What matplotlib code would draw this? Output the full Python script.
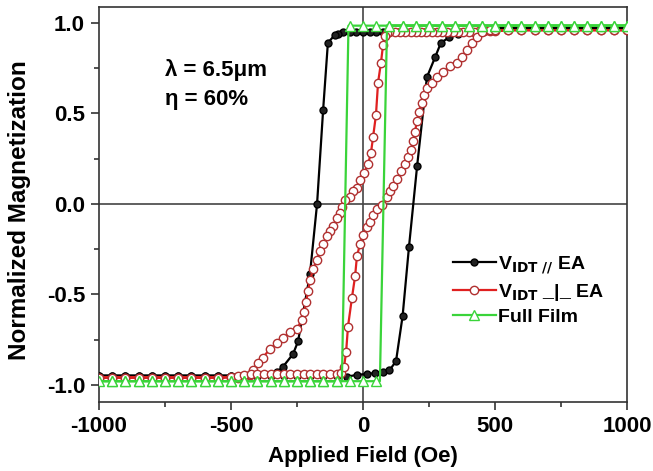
import matplotlib.pyplot as plt
from matplotlib.ticker import MultipleLocator

plt.rcParams['font.family'] = ['Liberation Sans', 'DejaVu Sans']
plt.rcParams['font.weight'] = 'bold'
plt.rcParams['mathtext.default'] = 'bf'
plt.rcParams['axes.unicode_minus'] = False

# V_IDT // EA, field sweep down (+1000 -> -1000) then up
black_x_down = [1000, 950, 900, 850, 800, 750, 700, 650, 600, 550, 500, 450, 400, 350, 300, 250, 200, 150,
                100, 75, 50, 25, 0, -25, -50, -76, -95, -106, -133, -151, -174, -201, -246, -265, -303, -326,
                -350, -400, -450, -500, -550, -600, -650, -700, -750, -800, -850, -900, -950, -1000]
black_y_down = [0.97, 0.97, 0.97, 0.97, 0.97, 0.97, 0.97, 0.97, 0.97, 0.97, 0.97, 0.96, 0.96, 0.96, 0.96, 0.955, 0.955, 0.955,
                0.95, 0.95, 0.95, 0.95, 0.95, 0.95, 0.95, 0.95, 0.94, 0.935, 0.89, 0.52, 0.0, -0.39, -0.76, -0.83, -0.90, -0.93,
                -0.94, -0.95, -0.95, -0.95, -0.95, -0.95, -0.95, -0.95, -0.95, -0.95, -0.95, -0.95, -0.95, -0.95]
black_x_up = [-1000, -950, -900, -850, -800, -750, -700, -650, -600, -550, -500, -450, -400, -350, -300, -250, -200, -150,
              -100, -61, -23, 15, 45, 76, 100, 125, 150, 174, 205, 242, 273, 295, 326, 360, 400, 450,
              500, 550, 600, 650, 700, 750, 800, 850, 900, 950, 1000]
black_y_up = [-0.95, -0.95, -0.95, -0.95, -0.95, -0.95, -0.95, -0.95, -0.95, -0.95, -0.95, -0.95, -0.95, -0.95, -0.95, -0.95, -0.95, -0.95,
              -0.95, -0.955, -0.945, -0.94, -0.935, -0.93, -0.92, -0.87, -0.62, -0.24, 0.21, 0.70, 0.81, 0.89, 0.92, 0.94, 0.955, 0.96,
              0.97, 0.97, 0.97, 0.97, 0.97, 0.97, 0.97, 0.97, 0.97, 0.97, 0.97]

# V_IDT _|_ EA
red_x_down = [1000, 950, 900, 850, 800, 750, 700, 650, 600, 550, 500, 480, 460, 440, 420, 400, 380, 360, 340, 320,
              300, 280, 260, 240, 220, 200, 180, 160, 140, 120, 100, 90, 83, 76, 68, 57, 49, 38, 30, 19, 4, -11,
              -23, -38, -49, -68, -80, -87, -98, -114, -125, -136, -151, -163, -174, -189, -200, -208, -215, -223,
              -231, -250, -276, -303, -326, -352, -379, -398, -417, -428, -450, -475, -500, -550, -600, -650, -700,
              -750, -800, -850, -900, -950, -1000]
red_y_down = [0.96, 0.96, 0.96, 0.96, 0.96, 0.96, 0.96, 0.96, 0.96, 0.96, 0.955, 0.955, 0.955, 0.955, 0.95, 0.95, 0.95, 0.95, 0.95, 0.95,
              0.95, 0.95, 0.95, 0.95, 0.95, 0.95, 0.95, 0.95, 0.95, 0.95, 0.95, 0.945, 0.93, 0.88, 0.78, 0.67, 0.49, 0.37, 0.28, 0.22, 0.17, 0.13,
              0.09, 0.07, 0.04, 0.02, -0.02, -0.05, -0.08, -0.12, -0.15, -0.18, -0.22, -0.26, -0.31, -0.36, -0.42, -0.48, -0.54, -0.60,
              -0.64, -0.69, -0.71, -0.74, -0.77, -0.80, -0.85, -0.88, -0.92, -0.945, -0.955, -0.96, -0.96, -0.96, -0.96, -0.96, -0.96,
              -0.96, -0.96, -0.96, -0.96, -0.96, -0.96]
red_x_up = [-1000, -950, -900, -850, -800, -750, -700, -650, -600, -550, -500, -475, -450, -425, -400, -375, -350, -325,
            -300, -275, -250, -225, -200, -175, -150, -125, -100, -85, -72, -64, -57, -42, -30, -23, -11, 0, 15, 27, 38,
            53, 72, 90, 102, 114, 129, 145, 159, 170, 182, 190, 197, 205, 213, 222, 230, 242, 261, 280, 303, 330, 356,
            375, 394, 413, 432, 451, 480, 500, 550, 600, 650, 700, 750, 800, 850, 900, 950, 1000]
red_y_up = [-0.96, -0.96, -0.96, -0.96, -0.96, -0.96, -0.96, -0.96, -0.96, -0.96, -0.955, -0.95, -0.945, -0.94, -0.94, -0.94, -0.94, -0.94,
            -0.94, -0.94, -0.94, -0.94, -0.94, -0.94, -0.94, -0.94, -0.94, -0.935, -0.90, -0.82, -0.68, -0.52, -0.40, -0.29, -0.22, -0.17, -0.13, -0.10, -0.06,
            -0.03, -0.005, 0.04, 0.07, 0.10, 0.14, 0.18, 0.22, 0.26, 0.30, 0.35, 0.40, 0.46, 0.51, 0.56, 0.60, 0.64, 0.67, 0.70, 0.73, 0.76, 0.78,
            0.81, 0.85, 0.89, 0.92, 0.95, 0.96, 0.96, 0.96, 0.96, 0.96, 0.96, 0.96, 0.96, 0.96, 0.96, 0.96, 0.96]

# Full film
green_x = [1000, 950, 900, 850, 800, 750, 700, 650, 600, 550, 500, 450, 400, 350, 300, 250, 200, 150, 100, 50, 0, -50,
           -55, -80,
           -100, -150, -200, -250, -300, -350, -400, -450, -500, -550, -600, -650, -700, -750, -800, -850, -900, -950, -1000,
           -950, -900, -850, -800, -750, -700, -650, -600, -550, -500, -450, -400, -350, -300, -250, -200, -150, -100, -50, 0, 50,
           64, 91,
           100, 150, 200, 250, 300, 350, 400, 450, 500, 550, 600, 650, 700, 750, 800, 850, 900, 950, 1000]
green_y = [0.985, 0.985, 0.985, 0.985, 0.985, 0.985, 0.985, 0.985, 0.985, 0.985, 0.985, 0.985, 0.985, 0.985, 0.985, 0.985, 0.985, 0.985, 0.985, 0.985, 0.985, 0.985,
           0.985, -0.98,
           -0.98, -0.98, -0.98, -0.98, -0.98, -0.98, -0.98, -0.98, -0.98, -0.98, -0.98, -0.98, -0.98, -0.98, -0.98, -0.98, -0.98, -0.98, -0.98,
           -0.98, -0.98, -0.98, -0.98, -0.98, -0.98, -0.98, -0.98, -0.98, -0.98, -0.98, -0.98, -0.98, -0.98, -0.98, -0.98, -0.98, -0.98, -0.98, -0.98, -0.98,
           -0.98, 0.985,
           0.985, 0.985, 0.985, 0.985, 0.985, 0.985, 0.985, 0.985, 0.985, 0.985, 0.985, 0.985, 0.985, 0.985, 0.985, 0.985, 0.985, 0.985, 0.985]

fig = plt.figure(figsize=(6.53, 4.71), dpi=100)
ax = fig.add_axes([0.1516, 0.1465, 0.8086, 0.8386])

ax.axhline(0, color='#444444', lw=1.2, zorder=1)
ax.axvline(0, color='#444444', lw=1.2, zorder=1)

black = dict(color='black', lw=1.6, marker='o', ms=5, mfc='#222222', mec='black')
ax.plot(black_x_down + black_x_up, black_y_down + black_y_up, label='V$_{IDT\\ //}$ EA', zorder=3, **black)

red = dict(color='#e02020', lw=1.6, marker='o', ms=6, mfc='white', mec='#b03030', mew=1.0)
ax.plot(red_x_down + red_x_up, red_y_down + red_y_up, label='V$_{IDT}$ _|_ EA', zorder=4, **red)

# hide markers on the switching points of the square loop
green_marks = [x not in (-55, -80, 64, 91) for x in green_x]
ax.plot(green_x, green_y, color='#3ad43a', lw=1.6, marker='^', ms=7, mfc='white', mec='#3ad43a', mew=1.0,
        markevery=green_marks, label='Full Film', zorder=5)

ax.set_xlim(-1000, 1000)
ax.set_ylim(-1.095, 1.088)
ax.xaxis.set_major_locator(MultipleLocator(500))
ax.xaxis.set_minor_locator(MultipleLocator(250))
ax.yaxis.set_major_locator(MultipleLocator(0.5))
ax.yaxis.set_minor_locator(MultipleLocator(0.25))
ax.yaxis.set_major_formatter(plt.FormatStrFormatter('%.1f'))
ax.tick_params(which='both', direction='out', top=False, right=False, width=1.2, color='#333333')
ax.tick_params(which='major', length=6, pad=4, labelsize=16)
ax.tick_params(which='minor', length=3.5)
for s in ax.spines.values():
    s.set_linewidth(1.2)
    s.set_color('#333333')

ax.set_xlabel('Applied Field (Oe)', fontsize=16, fontweight='bold')
ax.set_ylabel('Normalized Magnetization', fontsize=17.5, fontweight='bold')
ax.xaxis.set_label_coords(0.5, -0.112)
ax.yaxis.set_label_coords(-0.128, 0.486)

ax.text(-750, 0.74, 'λ = 6.5μm', fontsize=16, fontweight='bold', va='center')
ax.text(-750, 0.575, 'η = 60%', fontsize=16, fontweight='bold', va='center')

ax.legend(loc='upper left', bbox_to_anchor=(0.67, 0.375), frameon=False, fontsize=14,
          handlelength=2.2, handletextpad=0.15, labelspacing=0.3, borderpad=0, borderaxespad=0)

fig.savefig('out.png', dpi=100)
